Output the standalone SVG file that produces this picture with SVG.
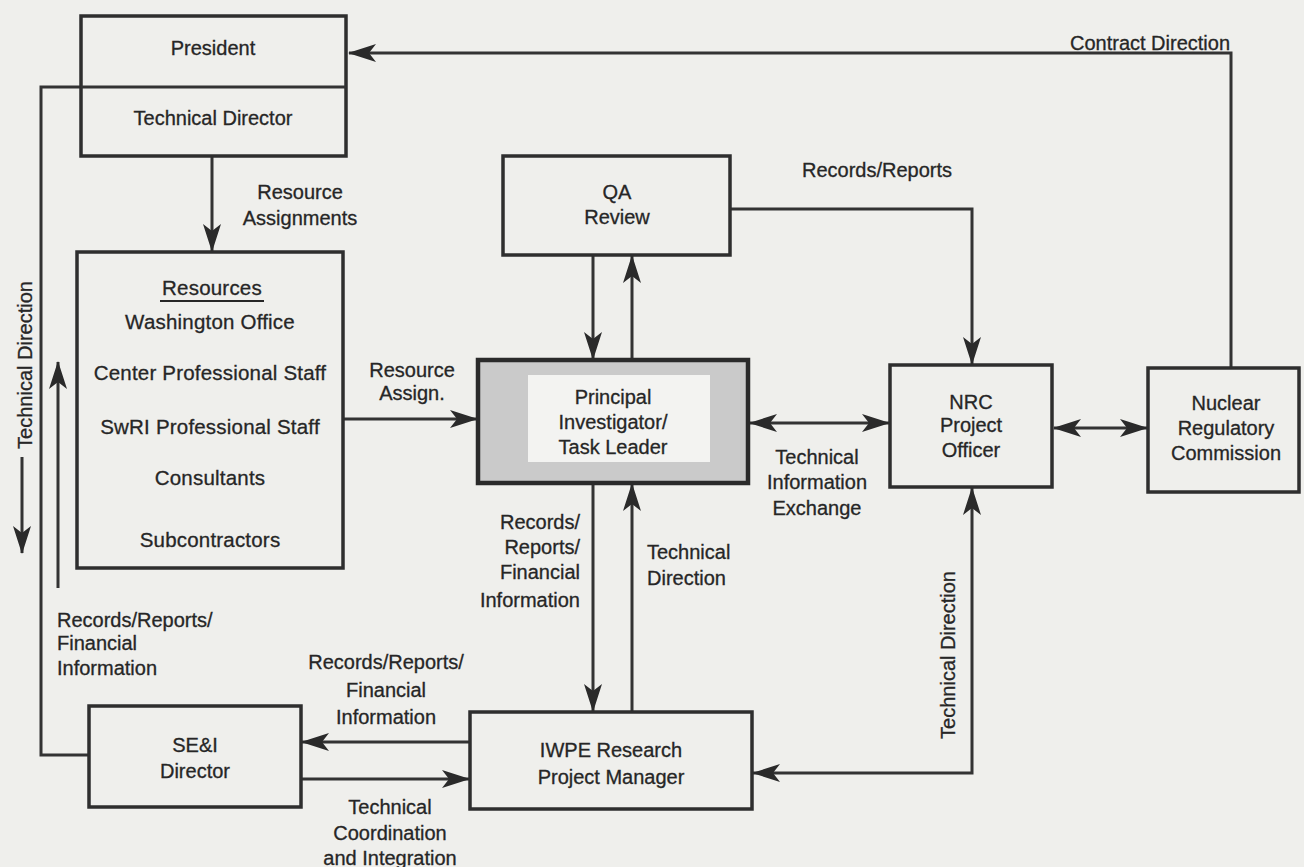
<svg xmlns="http://www.w3.org/2000/svg" width="1304" height="867" viewBox="0 0 1304 867">
<style>
.box{fill:none;stroke:#2e2e2e;stroke-width:3.5}
.ln{fill:none;stroke:#333;stroke-width:3}
.t{font-family:"Liberation Sans",Arial,sans-serif;font-size:20px;fill:#262626;stroke:#262626;stroke-width:0.3;text-anchor:middle}
.b{font-size:20.5px;letter-spacing:0.2px}
.l{text-anchor:start}
.r{text-anchor:end}
</style>
<defs>
<marker id="ah" viewBox="0 0 28 18" refX="27" refY="9" markerWidth="28" markerHeight="18" markerUnits="userSpaceOnUse" orient="auto-start-reverse">
<path d="M0,0 L28,9 L0,18 L7,9 z" fill="#2a2a2a"/>
</marker>
</defs>
<rect width="1304" height="867" fill="#efefec"/>

<g id="connectors">
<polyline class="ln" points="1231,368 1231,53 349,53" marker-end="url(#ah)"/>
<polyline class="ln" points="81,87 41,87 41,755 89,755"/>
<line class="ln" x1="212" y1="156" x2="212" y2="251" marker-end="url(#ah)"/>
<line class="ln" x1="343" y1="419" x2="477" y2="419" marker-end="url(#ah)"/>
<line class="ln" x1="593" y1="255" x2="593" y2="359" marker-end="url(#ah)"/>
<line class="ln" x1="632" y1="360" x2="632" y2="256" marker-end="url(#ah)"/>
<polyline class="ln" points="730,209 972,209 972,364" marker-end="url(#ah)"/>
<line class="ln" x1="750" y1="423" x2="889" y2="423" marker-start="url(#ah)" marker-end="url(#ah)"/>
<line class="ln" x1="1054" y1="428" x2="1147" y2="428" marker-start="url(#ah)" marker-end="url(#ah)"/>
<line class="ln" x1="593" y1="483" x2="593" y2="711" marker-end="url(#ah)"/>
<line class="ln" x1="632" y1="712" x2="632" y2="484" marker-end="url(#ah)"/>
<polyline class="ln" points="972,488 972,773 753,773" marker-start="url(#ah)" marker-end="url(#ah)"/>
<line class="ln" x1="470" y1="742" x2="302" y2="742" marker-end="url(#ah)"/>
<line class="ln" x1="301" y1="779" x2="469" y2="779" marker-end="url(#ah)"/>
<line class="ln" x1="22" y1="457" x2="22" y2="553" marker-end="url(#ah)"/>
<line class="ln" x1="58" y1="588" x2="58" y2="362" marker-end="url(#ah)"/>
</g>

<g id="labels">
<text class="t" x="1150" y="50">Contract Direction</text>
<text class="t" x="300" y="199">Resource</text>
<text class="t" x="300" y="225">Assignments</text>
<text class="t" x="877" y="177">Records/Reports</text>
<text class="t" x="412" y="377">Resource</text>
<text class="t" x="412" y="400">Assign.</text>
<text class="t" x="817" y="464">Technical</text>
<text class="t" x="817" y="489">Information</text>
<text class="t" x="817" y="515">Exchange</text>
<text class="t r" x="580" y="529">Records/</text>
<text class="t r" x="580" y="554">Reports/</text>
<text class="t r" x="580" y="579">Financial</text>
<text class="t r" x="580" y="607">Information</text>
<text class="t l" x="647" y="559">Technical</text>
<text class="t l" x="647" y="585">Direction</text>
<text class="t" transform="translate(955,655) rotate(-90)">Technical Direction</text>
<text class="t" transform="translate(32,365) rotate(-90)">Technical Direction</text>
<text class="t l" x="57" y="627">Records/Reports/</text>
<text class="t l" x="57" y="650">Financial</text>
<text class="t l" x="57" y="675">Information</text>
<text class="t" x="386" y="669">Records/Reports/</text>
<text class="t" x="386" y="697">Financial</text>
<text class="t" x="386" y="724">Information</text>
<text class="t" x="390" y="814">Technical</text>
<text class="t" x="390" y="840">Coordination</text>
<text class="t" x="390" y="865">and Integration</text>
</g>

<g id="president">
<rect class="box" x="81" y="16" width="265" height="140"/>
<line class="ln" x1="81" y1="87" x2="346" y2="87"/>
<text class="t" x="213" y="55">President</text>
<text class="t" x="213" y="125">Technical Director</text>
</g>

<g id="resources">
<rect class="box" x="77" y="252" width="266" height="316"/>
<text class="t b" x="212" y="295">Resources</text>
<line x1="160" y1="301" x2="264" y2="301" stroke="#262626" stroke-width="2"/>
<text class="t b" x="210" y="329">Washington Office</text>
<text class="t b" x="210" y="380">Center Professional Staff</text>
<text class="t b" x="210" y="434">SwRI Professional Staff</text>
<text class="t b" x="210" y="485">Consultants</text>
<text class="t b" x="210" y="547">Subcontractors</text>
</g>

<g id="qa">
<rect class="box" x="503" y="156" width="227" height="99"/>
<text class="t" x="617" y="199">QA</text>
<text class="t" x="617" y="224">Review</text>
</g>

<g id="pi">
<rect x="478" y="360" width="270" height="123" fill="#cacaca" stroke="#2a2a2a" stroke-width="4.5"/>
<rect x="528" y="375" width="182" height="87" fill="#f3f3f1"/>
<text class="t" x="613" y="404">Principal</text>
<text class="t" x="613" y="429">Investigator/</text>
<text class="t" x="613" y="454">Task Leader</text>
</g>

<g id="nrc">
<rect class="box" x="890" y="365" width="162" height="122"/>
<text class="t" x="971" y="409">NRC</text>
<text class="t" x="971" y="432">Project</text>
<text class="t" x="971" y="457">Officer</text>
</g>

<g id="commission">
<rect class="box" x="1148" y="368" width="151" height="124"/>
<text class="t" x="1226" y="410">Nuclear</text>
<text class="t" x="1226" y="435">Regulatory</text>
<text class="t" x="1226" y="460">Commission</text>
</g>

<g id="seai">
<rect class="box" x="89" y="706" width="212" height="101"/>
<text class="t" x="195" y="752">SE&amp;I</text>
<text class="t" x="195" y="778">Director</text>
</g>

<g id="iwpe">
<rect class="box" x="470" y="712" width="282" height="97"/>
<text class="t" x="611" y="757">IWPE Research</text>
<text class="t" x="611" y="784">Project Manager</text>
</g>
</svg>
